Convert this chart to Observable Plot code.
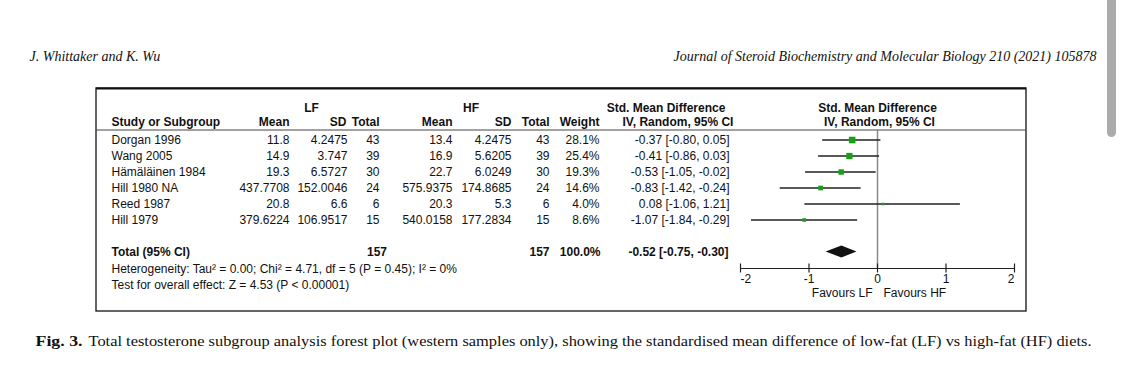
<!DOCTYPE html>
<html>
<head>
<meta charset="utf-8">
<script src="https://cdn.jsdelivr.net/npm/d3@7"></script>
<script src="https://cdn.jsdelivr.net/npm/@observablehq/plot@0.6"></script>
<style>
  html, body { margin: 0; padding: 0; background: #fff; overflow: hidden; }
  #wrap { position: relative; width: 1125px; height: 375px; }
  #scroll { position: absolute; left: 1107px; top: -6px; width: 9px; height: 143px; background: #ababab; border-radius: 5px; }
</style>
</head>
<body>
<div id="wrap"><div id="chart"></div><div id="scroll"></div></div>
<script>
// ---- data ----
const studies = ["Dorgan 1996", "Wang 2005", "Hämäläinen 1984", "Hill 1980 NA", "Reed 1987", "Hill 1979"];
const lfMean  = [11.8, 14.9, 19.3, 437.7708, 20.8, 379.6224];
const lfSD    = [4.2475, 3.747, 6.5727, 152.0046, 6.6, 106.9517];
const lfTotal = [43, 39, 30, 24, 6, 15];
const hfMean  = [13.4, 16.9, 22.7, 575.9375, 20.3, 540.0158];
const hfSD    = [4.2475, 5.6205, 6.0249, 174.8685, 5.3, 177.2834];
const hfTotal = [43, 39, 30, 24, 6, 15];
const weight  = [28.1, 25.4, 19.3, 14.6, 4.0, 8.6];
const smd     = [-0.37, -0.41, -0.53, -0.83, 0.08, -1.07];
const ciLow   = [-0.80, -0.86, -1.05, -1.42, -1.06, -1.84];
const ciHigh  = [0.05, 0.03, -0.02, -0.24, 1.21, -0.29];
const pooled  = {smd: -0.52, lo: -0.75, hi: -0.30, lfTotal: 157, hfTotal: 157, weight: 100.0};
const heterogeneity = "Heterogeneity: Tau² = 0.00; Chi² = 4.71, df = 5 (P = 0.45); I² = 0%";
const overallTest = "Test for overall effect: Z = 4.53 (P < 0.00001)";
const axisTicks = [-2, -1, 0, 1, 2];
const tickLabels = ["-2", "-1", "0", "1", "2"];
const favours = ["Favours LF", "Favours HF"];
const pageHeadLeft = "J. Whittaker and K. Wu";
const pageHeadRight = "Journal of Steroid Biochemistry and Molecular Biology 210 (2021) 105878";
const captionLead = "Fig. 3.";
const captionText = "Total testosterone subgroup analysis forest plot (western samples only), showing the standardised mean difference of low-fat (LF) vs high-fat (HF) diets.";

// ---- layout ----
const XR = [740, 1014], YR = [107.5, 283.5];
const X = px => -2 + (px - XR[0]) * 4 / (XR[1] - XR[0]);   // pixel -> x scale units
const Y = py => -2 + (py - YR[0]) * 11 / (YR[1] - YR[0]);  // pixel -> row units
const sans = "'Liberation Sans', Arial, Helvetica, sans-serif";
const serif = "'Liberation Serif', 'Times New Roman', serif";
const f2 = v => v.toFixed(2);

const rows = studies.map((s, i) => ({
  i, study: s,
  lfMean: String(lfMean[i]), lfSD: String(lfSD[i]), lfTotal: String(lfTotal[i]),
  hfMean: String(hfMean[i]), hfSD: String(hfSD[i]), hfTotal: String(hfTotal[i]),
  weight: weight[i], smd: smd[i], lo: ciLow[i], hi: ciHigh[i],
  ci: `${f2(smd[i])} [${f2(ciLow[i])}, ${f2(ciHigh[i])}]`,
  w: weight[i].toFixed(1) + "%"
}));
const totalRow = rows.length + 1;
const diamond = [
  {x: pooled.lo, y1: totalRow, y2: totalRow},
  {x: pooled.smd, y1: totalRow - 0.375, y2: totalRow + 0.375},
  {x: pooled.hi, y1: totalRow, y2: totalRow}
];

const col = (field, px, extra = {}) => Plot.text(rows, {x: X(px), y: "i", text: field, textAnchor: "end", ...extra});
const head = (label, px, row, anchor = "end") => Plot.text([label], {x: X(px), y: row, textAnchor: anchor, fontWeight: "bold"});

const chart = Plot.plot({
  width: 1125, height: 375, margin: 0,
  x: {domain: [-2, 2], range: XR, axis: null},
  y: {domain: [-2, 9], range: YR, axis: null},
  r: {type: "sqrt", domain: [0, 28.1], range: [0, 3.7]},
  style: {fontFamily: sans, fontSize: "12px", color: "#111", background: "white", overflow: "visible"},
  marks: [
    // page header
    Plot.text([pageHeadLeft], {x: X(29), y: Y(56), textAnchor: "start", fontFamily: serif, fontStyle: "italic", fontSize: 14}),
    Plot.text([pageHeadRight], {x: X(1096), y: Y(56), textAnchor: "end", fontFamily: serif, fontStyle: "italic", fontSize: 14}),
    // box
    Plot.rect([0], {x1: X(96), x2: X(1026), y1: Y(88), y2: Y(311), fill: "none", stroke: "#111", strokeWidth: 1.3}),
    Plot.ruleY([Y(88)], {x1: X(96), x2: X(1026), stroke: "#111", strokeWidth: 2}),
    Plot.ruleY([Y(129.5)], {x1: X(96), x2: X(1026), stroke: "#444", strokeWidth: 1}),
    // headers
    head("LF", 311, -2, "middle"),
    head("HF", 470.5, -2, "middle"),
    head("Std. Mean Difference", 665.5, -2, "middle"),
    head("Std. Mean Difference", 877, -2, "middle"),
    head("Study or Subgroup", 111, -1.1, "start"),
    head("Mean", 289, -1.1), head("SD", 346, -1.1), head("Total", 379, -1.1),
    head("Mean", 452, -1.1), head("SD", 511, -1.1), head("Total", 549, -1.1),
    head("Weight", 599, -1.1),
    head("IV, Random, 95% CI", 677.5, -1.1, "middle"),
    head("IV, Random, 95% CI", 879, -1.1, "middle"),
    // study rows
    Plot.text(rows, {x: X(111), y: "i", text: "study", textAnchor: "start"}),
    col("lfMean", 289), col("lfSD", 347), col("lfTotal", 379),
    col("hfMean", 452), col("hfSD", 511), col("hfTotal", 549),
    col("w", 599), col("ci", 729),
    // totals
    head("Total (95% CI)", 111, totalRow, "start"),
    head(String(pooled.lfTotal), 386.5, totalRow),
    head(String(pooled.hfTotal), 549, totalRow),
    head(pooled.weight.toFixed(1) + "%", 600, totalRow),
    head(`${f2(pooled.smd)} [${f2(pooled.lo)}, ${f2(pooled.hi)}]`, 728, totalRow),
    Plot.text([heterogeneity], {x: X(111), y: totalRow + 1.05, textAnchor: "start"}),
    Plot.text([overallTest], {x: X(111), y: totalRow + 2.1, textAnchor: "start"}),
    // forest plot
    Plot.ruleX([0], {y1: Y(129.5), y2: Y(268), stroke: "#8a8a8a", strokeWidth: 1.5}),
    Plot.ruleY(rows, {y: "i", x1: "lo", x2: "hi", stroke: "#222", strokeWidth: 1.3}),
    Plot.dot(rows, {x: "smd", y: "i", r: "weight", symbol: "square", fill: "#16a016", stroke: "none"}),
    Plot.area(diamond, {x1: "x", y1: "y1", y2: "y2", fill: "#111"}),
    // axis
    Plot.ruleY([Y(268)], {x1: -2, x2: 2, stroke: "#222", strokeWidth: 1.2}),
    Plot.ruleX(axisTicks, {x: d => d, y1: Y(263.5), y2: Y(272.5), stroke: "#222", strokeWidth: 1.2}),
    Plot.text([0], {x: axisTicks[0], y: Y(279), text: () => tickLabels[0], textAnchor: "start"}),
    Plot.text([1, 2, 3], {x: i => axisTicks[i], y: Y(279), text: i => tickLabels[i], textAnchor: "middle"}),
    Plot.text([4], {x: axisTicks[4], y: Y(279), text: () => tickLabels[4], textAnchor: "end"}),
    Plot.text([favours[0]], {x: 0, dx: -5, y: Y(293), textAnchor: "end"}),
    Plot.text([favours[1]], {x: 0, dx: 6, y: Y(293), textAnchor: "start"}),
    // caption
    Plot.text([captionLead], {x: X(35), y: Y(341), textAnchor: "start", fontFamily: serif, fontWeight: "bold", fontSize: 15}),
    Plot.text([captionText], {x: X(88), y: Y(341), textAnchor: "start", fontFamily: serif, fontSize: 14.5})
  ]
});
document.getElementById("chart").appendChild(chart);
// fit caption width to the reference line length
d3.select(chart).selectAll("text").filter(function() { return this.textContent === captionText; })
  .attr("textLength", 1003).attr("lengthAdjust", "spacingAndGlyphs");
d3.select(chart).selectAll("text").filter(function() { return this.textContent === captionLead; })
  .attr("textLength", 47).attr("lengthAdjust", "spacingAndGlyphs");
</script>
</body>
</html>
